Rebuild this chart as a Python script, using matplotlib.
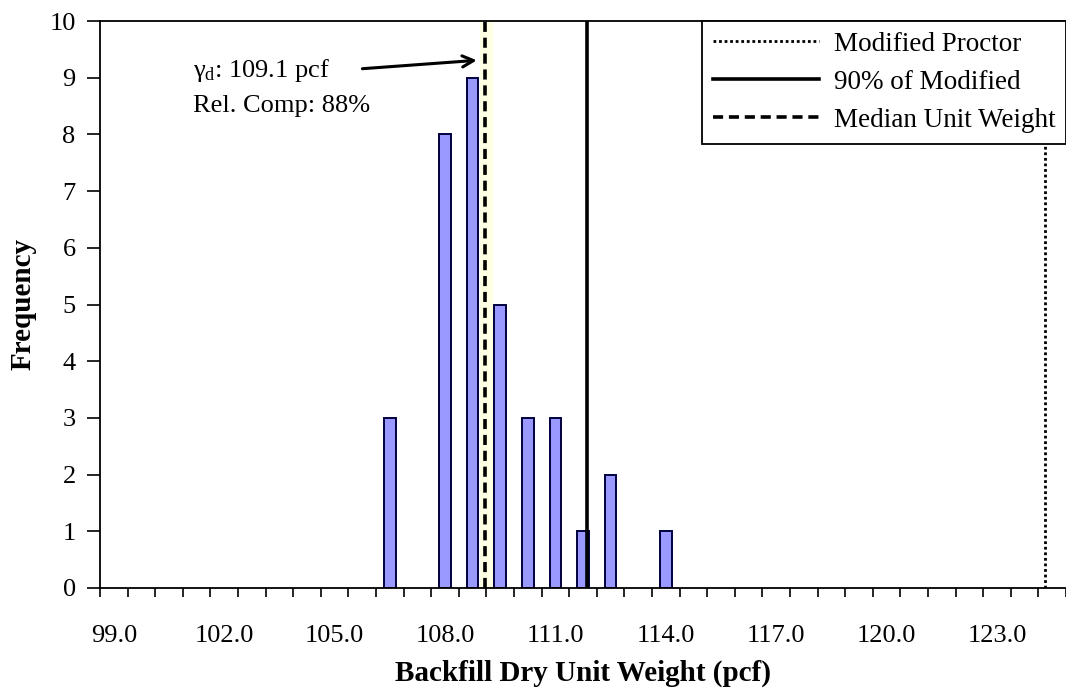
import numpy as np
import matplotlib
matplotlib.use("Agg")
import matplotlib.pyplot as plt

plt.rcParams['font.family'] = ['Liberation Serif', 'DejaVu Serif']
plt.rcParams['mathtext.fontset'] = 'custom'
plt.rcParams['mathtext.rm'] = 'Liberation Serif'
plt.rcParams['mathtext.it'] = 'Liberation Serif'

# histogram of backfill dry unit weights (bin centre, count)
bin_centers = [106.5, 108.0, 108.75, 109.5, 110.25, 111.0, 111.75, 112.5, 114.0]
counts = [3, 8, 9, 5, 3, 3, 1, 2, 1]

bin_width = 0.75
modified_proctor = 124.3
ninety_pct = 0.9 * modified_proctor
median_weight = 109.1
rel_comp = median_weight / modified_proctor * 100

tick_labels = [99.0, 102.0, 105.0, 108.0, 111.0, 114.0, 117.0, 120.0, 123.0]

x_lo = 99.0 - bin_width / 2
x_hi = x_lo + 35 * bin_width

fig = plt.figure(figsize=(10.66, 6.90), dpi=100)
ax = fig.add_axes([100 / 1066, 102 / 690, 966 / 1066, 567 / 690])

# faint highlight behind the median line
ax.axvspan(median_weight - 0.16, median_weight + 0.2, color='#ffffe4', zorder=0, lw=0)

ax.bar(bin_centers, counts, width=0.31, color='#9999ff', edgecolor='#000040',
       linewidth=1.4, zorder=2)

ax.axvline(modified_proctor, color='black', lw=2, linestyle=(0, (1, 1)), zorder=3,
           label='Modified Proctor')
ax.axvline(ninety_pct, color='black', lw=2.6, zorder=3, label='90% of Modified')
ax.axvline(median_weight, color='black', lw=2.6, linestyle=(0, (2.8, 1.6)), zorder=3,
           label='Median Unit Weight')

ax.set_xlim(x_lo, x_hi)
ax.set_ylim(0, 10)

# category boundaries carry the tick marks, labels sit at bin centres
ax.set_xticks(np.arange(x_lo, x_hi + 0.01, bin_width))
ax.set_xticklabels([])
ax.set_xticks(tick_labels, minor=True)
ax.set_xticklabels([f"{v:.1f}" for v in tick_labels], minor=True)
ax.tick_params(axis='x', which='major', direction='out', length=6.5, width=1.2)
ax.tick_params(axis='x', which='minor', length=0, pad=27, labelsize=19)
ax.set_yticks(range(0, 11))
ax.tick_params(axis='y', direction='out', length=9.5, width=1.2, labelsize=19, pad=8)

for side in ['left', 'bottom', 'top']:
    ax.spines[side].set_linewidth(1.3)
ax.spines['right'].set_visible(False)

ax.set_xlabel('Backfill Dry Unit Weight (pcf)', fontsize=21, fontweight='bold')
ax.xaxis.set_label_coords(0.5, -0.127)
ax.set_ylabel('Frequency', fontsize=21, fontweight='bold')
ax.yaxis.set_label_coords(-0.066, 0.5)

ax.text(101.15, 9.12, r'$\gamma_\mathrm{d}$' + f': {median_weight:.1f} pcf', fontsize=19,
        va='center', ha='left')
ax.text(101.15, 8.50, f'Rel. Comp: {rel_comp:.0f}%', fontsize=19, va='center', ha='left')
ax.annotate('', xy=(108.94, 9.31), xytext=(105.68, 9.155),
            arrowprops=dict(arrowstyle='->', lw=2.2, color='black', mutation_scale=20))

leg = ax.legend(loc='upper right', borderaxespad=0, fontsize=19.5, handlelength=3.9,
                handletextpad=0.55, labelspacing=0.48, fancybox=False, framealpha=1,
                borderpad=0.4)
leg.get_frame().set_edgecolor('black')
leg.get_frame().set_linewidth(1.3)

fig.savefig('out.png', dpi=100)
